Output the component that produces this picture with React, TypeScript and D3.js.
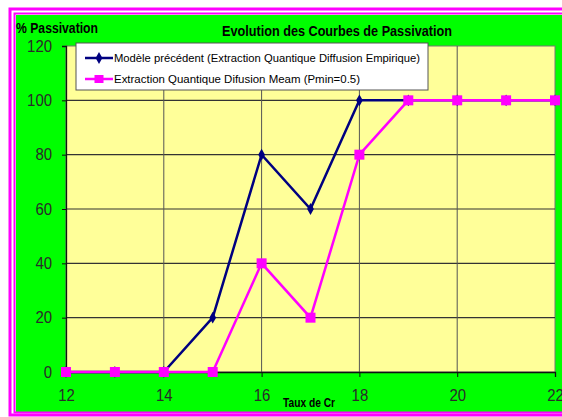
import React, { useEffect, useRef } from 'react';
import * as d3 from 'd3';

const taux = [12, 13, 14, 15, 16, 17, 18, 19, 20, 21, 22];
const modelePrecedent = [0, 0, 0, 20, 80, 60, 100, 100, 100, 100, 100];
const extractionMeam = [0, 0, 0, 0, 40, 20, 80, 100, 100, 100, 100];
const xTicks = [12, 14, 16, 18, 20, 22];
const yTicks = [0, 20, 40, 60, 80, 100, 120];
const legendLabels = [
  'Modèle précédent  (Extraction Quantique Diffusion Empirique)',
  'Extraction Quantique Difusion Meam (Pmin=0.5)',
];

const App = () => {
  const ref = useRef<SVGSVGElement>(null);

  useEffect(() => {
    const svg = d3.select(ref.current);
    svg.selectAll('*').remove();

    const plot = { left: 66, top: 46, right: 555, bottom: 372 };
    const x = d3.scaleLinear().domain([12, 22]).range([plot.left, plot.right]);
    const y = d3.scaleLinear().domain([0, 120]).range([plot.bottom, plot.top]);

    // frame
    svg.append('rect').attr('x', 0).attr('y', 0).attr('width', 562).attr('height', 417).attr('fill', 'white');
    svg.append('rect').attr('x', 16).attr('y', 15).attr('width', 560).attr('height', 397).attr('fill', '#00ff00');
    svg.append('rect').attr('x', 10).attr('y', 9).attr('width', 580).attr('height', 406)
      .attr('fill', 'none').attr('stroke', '#ff00ff').attr('stroke-width', 3);
    svg.append('rect').attr('x', 14.5).attr('y', 13.5).attr('width', 580).attr('height', 399)
      .attr('fill', 'none').attr('stroke', '#ff00ff').attr('stroke-width', 2);

    // plot area
    svg.append('rect')
      .attr('x', plot.left).attr('y', plot.top)
      .attr('width', plot.right - plot.left).attr('height', plot.bottom - plot.top)
      .attr('fill', '#ffff99').attr('stroke', '#777').attr('stroke-width', 1);

    // grid
    const g = svg.append('g');
    g.selectAll('.hg').data(yTicks.filter(d => d > 0 && d < 120)).join('line')
      .attr('x1', plot.left).attr('x2', plot.right)
      .attr('y1', d => y(d)).attr('y2', d => y(d))
      .attr('stroke', '#333').attr('stroke-width', 1.2);
    g.selectAll('.vg').data(xTicks.filter(d => d > 12 && d < 22)).join('line')
      .attr('y1', plot.top).attr('y2', plot.bottom)
      .attr('x1', d => x(d)).attr('x2', d => x(d))
      .attr('stroke', '#555').attr('stroke-width', 1);

    // axes
    const ya = svg.append('g').attr('transform', `translate(${plot.left},0)`)
      .call(d3.axisLeft(y).tickValues(yTicks).tickSize(4).tickPadding(10));
    const xa = svg.append('g').attr('transform', `translate(0,${plot.bottom})`)
      .call(d3.axisBottom(x).tickValues(xTicks).tickSize(5).tickPadding(13));
    [ya, xa].forEach(a => {
      a.selectAll('path').attr('stroke', '#111').attr('stroke-width', 1.3);
      a.selectAll('line').attr('stroke', '#111');
      a.selectAll('text')
        .attr('fill', '#2a2a2a')
        .attr('font-family', '"Liberation Sans", Arial, sans-serif')
        .attr('font-size', 16)
        .attr('textLength', (d: any) => String(d).length * 8.3)
        .attr('lengthAdjust', 'spacingAndGlyphs');
    });

    // titles
    svg.append('text').attr('x', 222).attr('y', 36)
      .attr('font-family', '"Liberation Sans", Arial, sans-serif').attr('font-weight', 'bold')
      .attr('font-size', 14).attr('textLength', 230).attr('lengthAdjust', 'spacingAndGlyphs')
      .text('Evolution des Courbes de Passivation');
    svg.append('text').attr('x', 16).attr('y', 33)
      .attr('font-family', '"Liberation Sans", Arial, sans-serif').attr('font-weight', 'bold')
      .attr('font-size', 14).attr('textLength', 82).attr('lengthAdjust', 'spacingAndGlyphs')
      .text('% Passivation');
    svg.append('text').attr('x', 283).attr('y', 407)
      .attr('font-family', '"Liberation Sans", Arial, sans-serif').attr('font-weight', 'bold')
      .attr('font-size', 12).attr('textLength', 52).attr('lengthAdjust', 'spacingAndGlyphs')
      .text('Taux de Cr');

    // series
    const line = (vals: number[]) => d3.line<number>().x((_, i) => x(taux[i])).y(d => y(d))(vals);
    svg.append('path').attr('d', line(modelePrecedent)).attr('fill', 'none')
      .attr('stroke', '#000080').attr('stroke-width', 2.5);
    svg.selectAll('.dm').data(modelePrecedent).join('path')
      .attr('transform', (d, i) => `translate(${x(taux[i])},${y(d)})`)
      .attr('d', d3.symbol(d3.symbolDiamond, 40)()).attr('fill', '#000080');
    svg.append('path').attr('d', line(extractionMeam)).attr('fill', 'none')
      .attr('stroke', '#ff00ff').attr('stroke-width', 2.5);
    svg.selectAll('.sq').data(extractionMeam).join('rect')
      .attr('x', (d, i) => x(taux[i]) - 5).attr('y', d => y(d) - 5)
      .attr('width', 10).attr('height', 10).attr('fill', '#ff00ff');

    // legend
    const lg = svg.append('g');
    lg.append('rect').attr('x', 76).attr('y', 43).attr('width', 352).attr('height', 47)
      .attr('fill', 'white').attr('stroke', '#555').attr('stroke-width', 1);
    const colors = ['#000080', '#ff00ff'];
    const widths = [306, 246];
    legendLabels.forEach((t, i) => {
      const ly = 58 + i * 21;
      lg.append('line').attr('x1', 85).attr('x2', 113).attr('y1', ly).attr('y2', ly)
        .attr('stroke', colors[i]).attr('stroke-width', 2.5);
      if (i === 0) {
        lg.append('path').attr('transform', `translate(99,${ly})`)
          .attr('d', d3.symbol(d3.symbolDiamond, 40)()).attr('fill', colors[i]);
      } else {
        lg.append('rect').attr('x', 94.5).attr('y', ly - 4).attr('width', 9).attr('height', 8).attr('fill', colors[i]);
      }
      lg.append('text').attr('x', 114).attr('y', ly + 4)
        .attr('font-family', '"Liberation Sans", Arial, sans-serif').attr('font-size', 11)
        .attr('textLength', widths[i]).attr('lengthAdjust', 'spacingAndGlyphs')
        .text(t);
    });
  }, []);

  return (
    <div style={{ position: 'absolute', left: 0, top: 0, width: 562, height: 417, overflow: 'hidden' }}>
      <svg ref={ref} width={562} height={417} style={{ display: 'block' }}></svg>
    </div>
  );
};

export default App;
